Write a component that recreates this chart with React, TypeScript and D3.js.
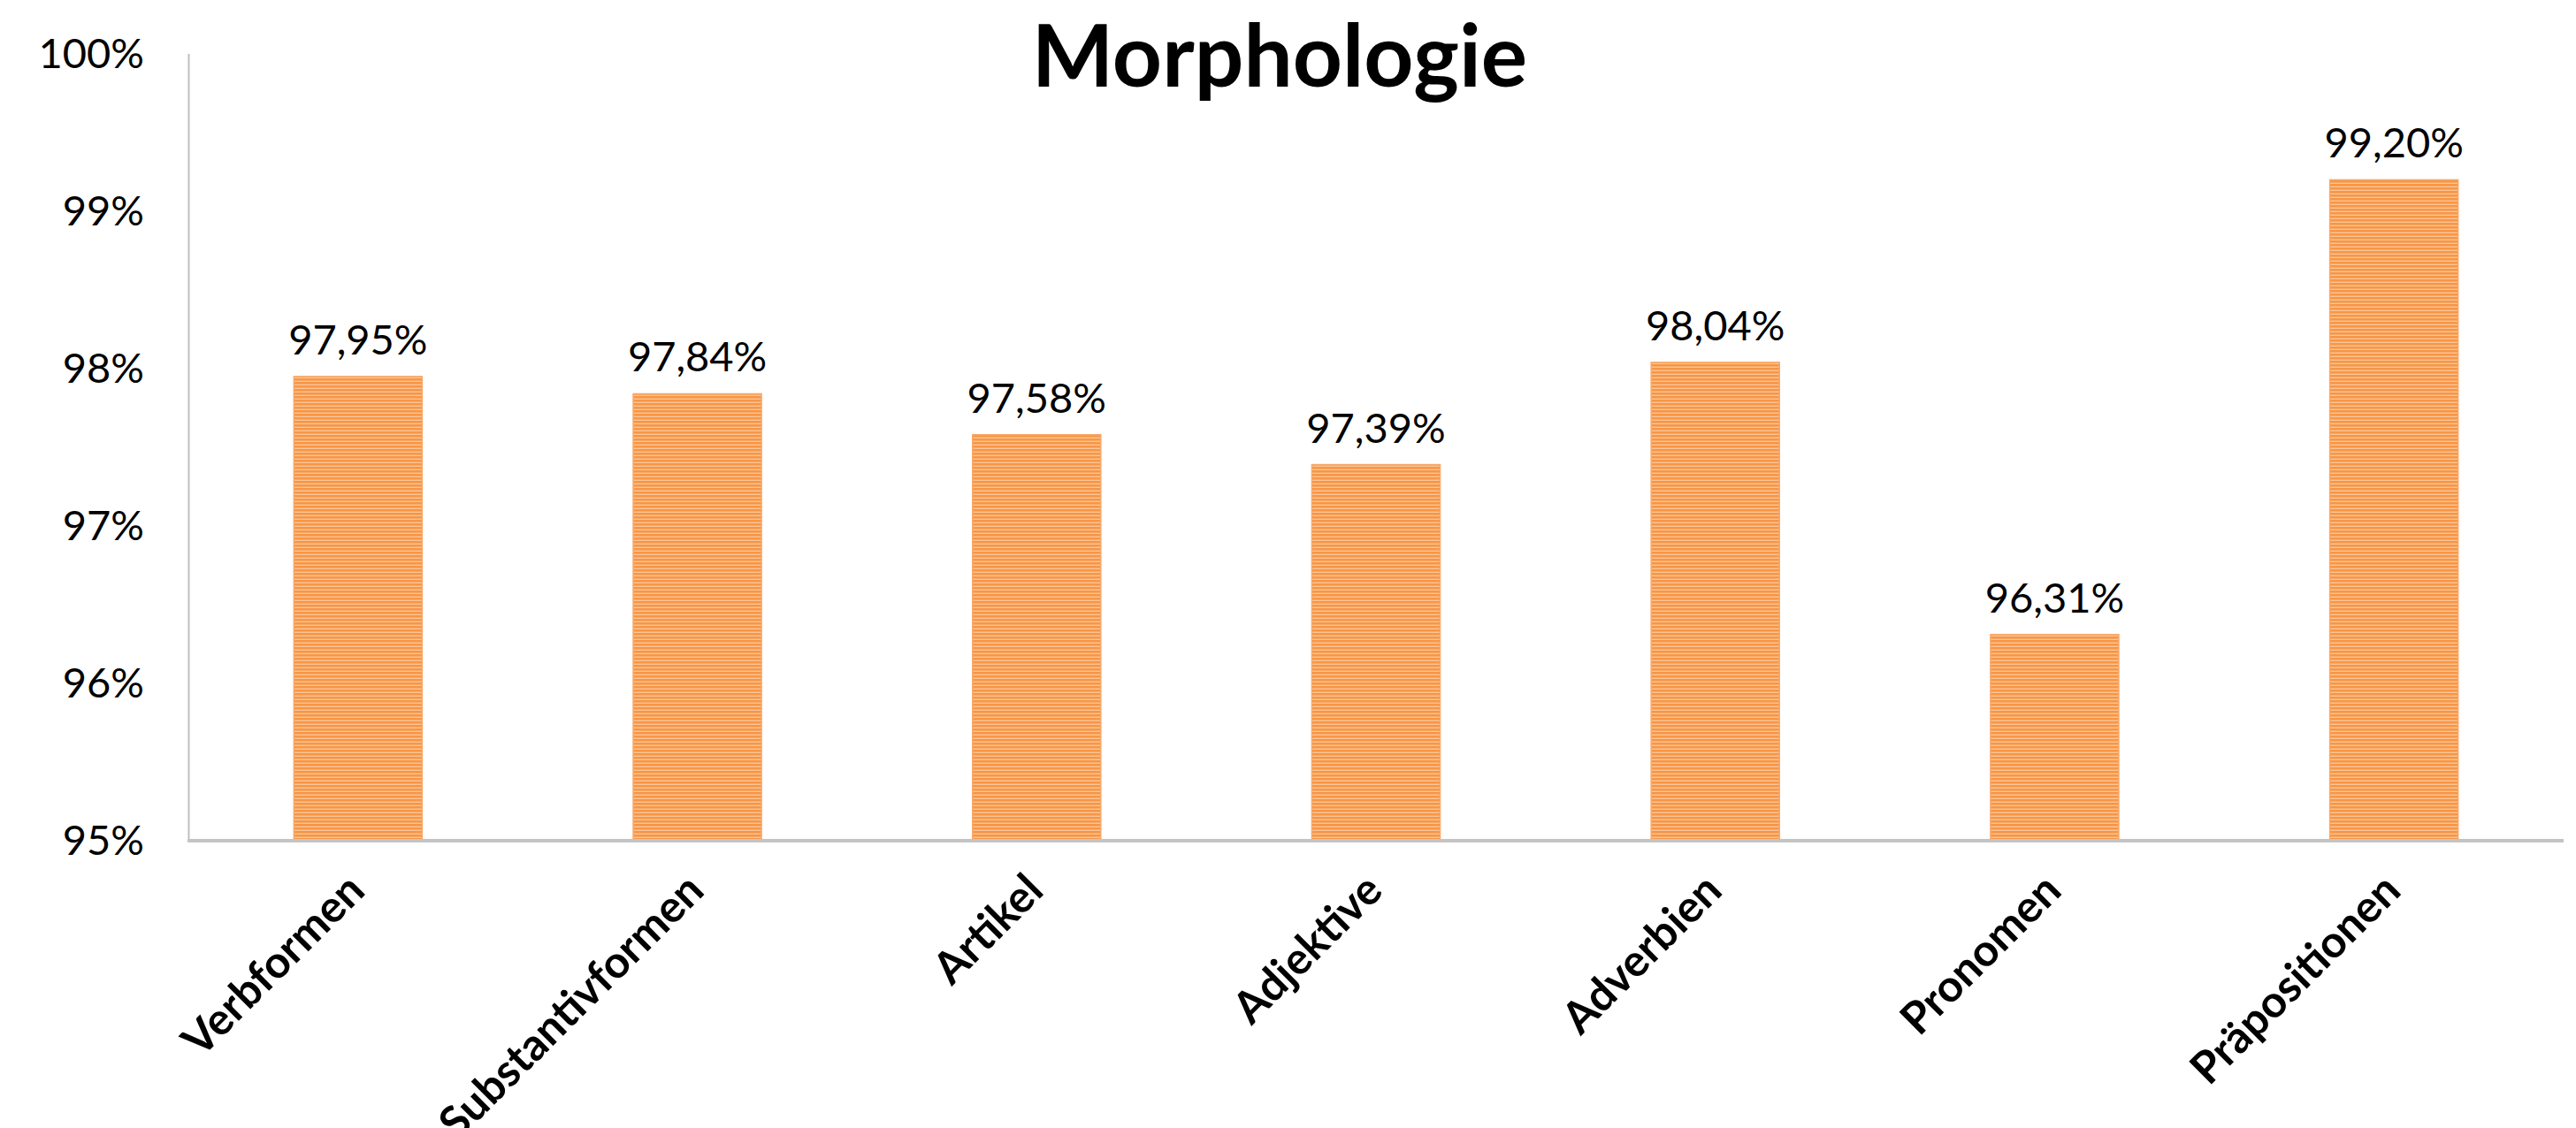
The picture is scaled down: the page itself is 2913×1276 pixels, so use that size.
import React, { useEffect } from 'react';
import * as d3 from 'd3';

// chart data
const categories = ['Verbformen', 'Substantivformen', 'Artikel', 'Adjektive', 'Adverbien', 'Pronomen', 'Präpositionen'];
const values = [0.9795, 0.9784, 0.9758, 0.9739, 0.9804, 0.9631, 0.992];
const yTicks = [0.95, 0.96, 0.97, 0.98, 0.99, 1.0];
const title = 'Morphologie';

const W = 2913, H = 1276;
const margin = { top: 61, right: 14, bottom: 325, left: 213 };
const font = 'Lato, "Open Sans", sans-serif';

const deLocale = d3.formatLocale({ decimal: ',', thousands: '.', grouping: [3], currency: ['', ' €'] });
const fmtValue = deLocale.format('.2%');
const fmtTick = deLocale.format('.0%');

const App = () => {
    useEffect(() => {
        document.body.style.margin = '0';
    }, []);

    const x = d3
        .scaleBand<string>()
        .domain(categories)
        .range([margin.left, W - margin.right])
        .paddingInner(0.622)
        .paddingOuter(0.311);

    const y = d3
        .scaleLinear()
        .domain([0.95, 1.0])
        .range([H - margin.bottom, margin.top]);

    const baseY = y(0.95);

    return (
        <svg width={W} height={H} viewBox={`0 0 ${W} ${H}`} style={{ display: 'block', background: '#fff' }}>
            <defs>
                {/* narrow horizontal stripes like the excel fill */}
                <pattern id="stripes" patternUnits="userSpaceOnUse" width={8} height={4}>
                    <rect width={8} height={4} fill="#fbc596" />
                    <rect width={8} height={2.6} fill="#f79646" />
                </pattern>
            </defs>

            {/* title */}
            <text x={1447} y={98} textAnchor="middle" fontFamily={font} fontWeight="bold" fontSize={98} fill="#000">
                {title}
            </text>

            {/* y tick labels */}
            {yTicks.map((t) => (
                <text key={t} x={163} y={y(t)} dy="0.35em" textAnchor="end" fontFamily={font} fontSize={47} fill="#000">
                    {fmtTick(t)}
                </text>
            ))}

            {/* bars */}
            {categories.map((c, i) => (
                <g key={c}>
                    <rect
                        x={x(c)}
                        y={y(values[i])}
                        width={x.bandwidth()}
                        height={baseY - y(values[i])}
                        fill="url(#stripes)"
                        stroke="#f8a868"
                        strokeWidth={1.5}
                    />
                    <text
                        x={(x(c) ?? 0) + x.bandwidth() / 2}
                        y={y(values[i]) - 25}
                        textAnchor="middle"
                        fontFamily={font}
                        fontSize={47}
                        fill="#000">
                        {fmtValue(values[i])}
                    </text>
                </g>
            ))}

            {/* axes */}
            <line x1={213.5} x2={213.5} y1={margin.top} y2={baseY} stroke="#bfbfbf" strokeWidth={2} />
            <line x1={212} x2={W - margin.right} y1={baseY} y2={baseY} stroke="#c4c4c4" strokeWidth={4} />

            {/* category labels */}
            {categories.map((c) => {
                const cx = (x(c) ?? 0) + x.bandwidth() / 2 + 10;
                const cy = 1010;
                return (
                    <text
                        key={c}
                        x={cx}
                        y={cy}
                        textAnchor="end"
                        transform={`rotate(-45, ${cx}, ${cy})`}
                        fontFamily={font}
                        fontWeight="bold"
                        fontSize={50}
                        fill="#000">
                        {c}
                    </text>
                );
            })}
        </svg>
    );
};

export default App;
